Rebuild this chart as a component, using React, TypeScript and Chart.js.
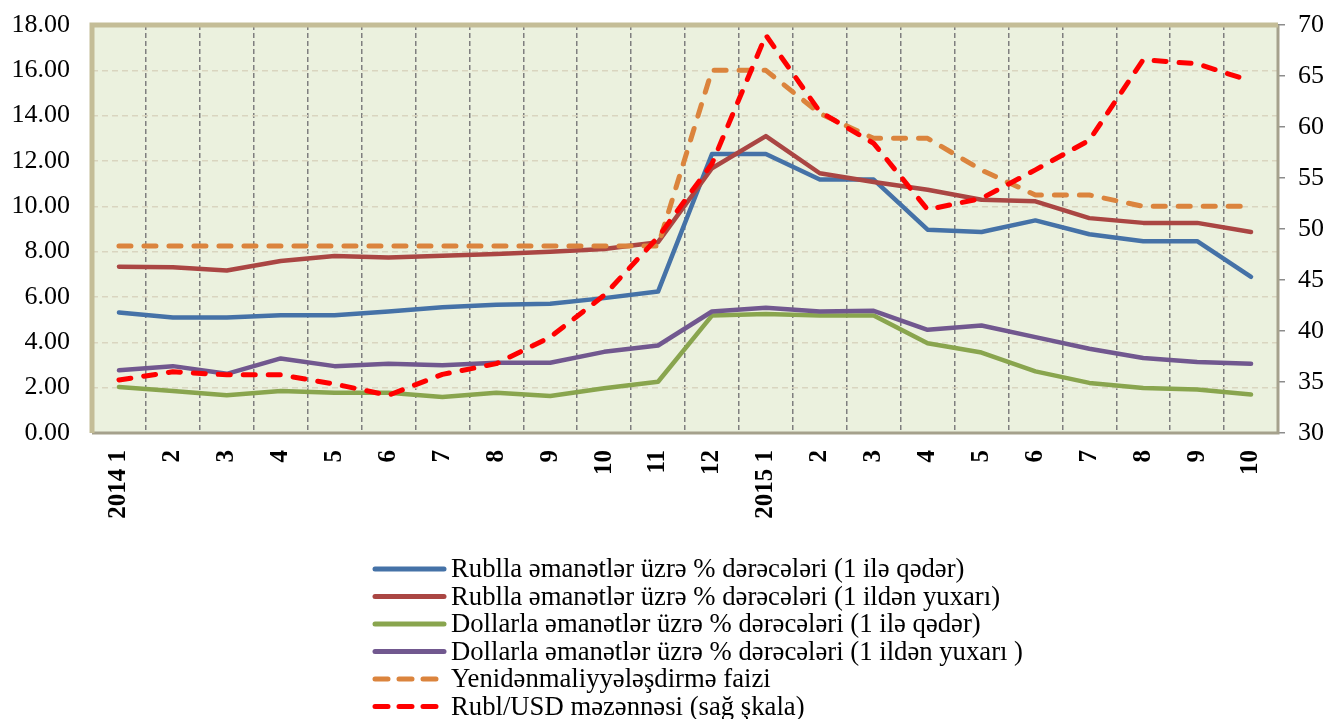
import React, { useEffect, useRef } from "react";
import { Chart, registerables } from "chart.js";

Chart.register(...registerables);

const categories: string[] = [
  "2014 1", "2", "3", "4", "5", "6", "7", "8", "9", "10", "11", "12",
  "2015 1", "2", "3", "4", "5", "6", "7", "8", "9", "10",
];

const rubShort: number[] = [5.32, 5.1, 5.1, 5.2, 5.2, 5.36, 5.55, 5.66, 5.7, 5.95, 6.24, 12.31, 12.31, 11.18, 11.18, 8.97, 8.87, 9.38, 8.77, 8.46, 8.46, 6.89];
const rubLong: number[] = [7.34, 7.31, 7.17, 7.59, 7.81, 7.74, 7.82, 7.9, 8.0, 8.12, 8.42, 11.68, 13.1, 11.46, 11.07, 10.73, 10.29, 10.22, 9.48, 9.27, 9.27, 8.87];
const usdShort: number[] = [2.03, 1.85, 1.67, 1.85, 1.78, 1.78, 1.59, 1.78, 1.63, 1.97, 2.26, 5.18, 5.25, 5.18, 5.18, 3.96, 3.55, 2.72, 2.21, 1.99, 1.92, 1.7];
const usdLong: number[] = [2.77, 2.95, 2.61, 3.29, 2.95, 3.05, 2.99, 3.1, 3.1, 3.58, 3.86, 5.36, 5.53, 5.36, 5.39, 4.55, 4.74, 4.23, 3.72, 3.31, 3.13, 3.06];
const refiRate: number[] = [8.25, 8.25, 8.25, 8.25, 8.25, 8.25, 8.25, 8.25, 8.25, 8.25, 8.25, 16.0, 16.0, 14.1, 13.0, 13.0, 11.6, 10.5, 10.5, 10.0, 10.0, 10.0];
const rubUsd: number[] = [35.2, 36.0, 35.7, 35.7, 34.8, 33.7, 35.75, 36.8, 39.4, 43.5, 49.2, 56.4, 69.0, 61.5, 58.4, 51.9, 53.0, 55.8, 58.7, 66.6, 66.2, 64.5];

const seriesNames: string[] = [
  "Rublla əmanətlər üzrə % dərəcələri (1 ilə qədər)",
  "Rublla əmanətlər üzrə % dərəcələri (1 ildən yuxarı)",
  "Dollarla əmanətlər üzrə % dərəcələri (1 ilə qədər)",
  "Dollarla əmanətlər üzrə % dərəcələri (1 ildən yuxarı )",
  "Yenidənmaliyyələşdirmə faizi",
  "Rubl/USD məzənnəsi (sağ şkala)",
];

const leftTicks = { min: 0, max: 18, step: 2 };
const rightTicks = { min: 30, max: 70, step: 5 };

const FONT = "'Times New Roman', 'Liberation Serif', serif";

const framePlugin = {
  id: "frame",
  beforeDraw(chart: any) {
    const { ctx, chartArea: a } = chart;
    ctx.save();
    ctx.fillStyle = "#EBF1DE";
    ctx.fillRect(a.left, a.top, a.right - a.left, a.bottom - a.top);
    ctx.restore();
  },
  afterDatasetsDraw(chart: any) {
    const { ctx, chartArea: a } = chart;
    ctx.save();
    ctx.lineCap = "butt";
    ctx.strokeStyle = "#A5A18C";
    ctx.lineWidth = 3;
    ctx.beginPath();
    ctx.moveTo(a.right, a.top);
    ctx.lineTo(a.right, a.bottom);
    ctx.lineTo(a.left, a.bottom);
    ctx.stroke();
    ctx.strokeStyle = "#C4BD97";
    ctx.lineWidth = 5;
    ctx.beginPath();
    ctx.moveTo(a.left, a.bottom);
    ctx.lineTo(a.left, a.top);
    ctx.lineTo(a.right, a.top);
    ctx.stroke();
    ctx.restore();
  },
};

const legendPlugin = {
  id: "customLegend",
  afterDraw(chart: any) {
    const { ctx } = chart;
    const x0 = 375;
    const x1 = 444;
    const y0 = 569;
    const dy = 27.5;
    ctx.save();
    chart.data.datasets.forEach((ds: any, i: number) => {
      const y = y0 + i * dy;
      ctx.beginPath();
      ctx.strokeStyle = ds.borderColor;
      ctx.lineWidth = 5;
      ctx.lineCap = "round";
      ctx.setLineDash(ds.borderDash && ds.borderDash.length ? [13, 11] : []);
      ctx.moveTo(x0, y);
      ctx.lineTo(x1, y);
      ctx.stroke();
      ctx.setLineDash([]);
      ctx.fillStyle = "#000000";
      ctx.font = `26.7px ${FONT}`;
      ctx.textBaseline = "middle";
      ctx.textAlign = "left";
      ctx.fillText(ds.label, 451, y + 1);
    });
    ctx.restore();
  },
};

export default function App() {
  const ref = useRef<HTMLCanvasElement | null>(null);

  useEffect(() => {
    if (!ref.current) return;
    const mk = (label: string, data: number[], color: string, order: number, dashed: boolean, axis = "y") => ({
      label,
      data,
      borderColor: color,
      backgroundColor: color,
      borderWidth: dashed ? 5 : 4.5,
      borderDash: dashed ? [12, 13] : [],
      borderCapStyle: "round",
      borderJoinStyle: "round",
      pointRadius: 0,
      pointHoverRadius: 0,
      tension: 0,
      fill: false,
      order,
      yAxisID: axis,
    });
    const chart = new Chart(ref.current, {
      type: "line",
      data: {
        labels: categories,
        datasets: [
          mk(seriesNames[0], rubShort, "#4572A7", 6, false),
          mk(seriesNames[1], rubLong, "#AA4643", 5, false),
          mk(seriesNames[2], usdShort, "#89A54E", 4, false),
          mk(seriesNames[3], usdLong, "#71588F", 3, false),
          mk(seriesNames[4], refiRate, "#DB843D", 2, true),
          mk(seriesNames[5], rubUsd, "#FF0000", 1, true, "y1"),
        ] as any,
      },
      options: {
        animation: false,
        responsive: true,
        maintainAspectRatio: false,
        layout: { padding: { top: 25, bottom: 186, left: 0, right: 0 } },
        plugins: {
          legend: { display: false },
          tooltip: { enabled: false },
          title: { display: false },
        },
        scales: {
          x: {
            offset: true,
            grid: {
              offset: true,
              drawTicks: false,
              color: "#7F7F7F",
              lineWidth: 1.5,
            },
            border: { display: false, dash: [5, 3] },
            ticks: {
              autoSkip: false,
              maxRotation: 90,
              minRotation: 90,
              padding: 17,
              color: "#000000",
              font: { family: FONT, size: 25, weight: "bold" },
            },
            afterFit(scale: any) {
              scale.height = 100;
              scale.paddingLeft = 0;
              scale.paddingRight = 0;
            },
          },
          y: {
            position: "left",
            min: leftTicks.min,
            max: leftTicks.max,
            ticks: {
              stepSize: leftTicks.step,
              padding: 22,
              color: "#000000",
              font: { family: FONT, size: 26 },
              callback: (v: any) => Number(v).toFixed(2),
            },
            grid: {
              drawTicks: false,
              color: "#D9D5BF",
              lineWidth: 1.5,
            },
            border: { display: false, dash: [6, 4] },
            afterFit(scale: any) {
              scale.width = 92;
              scale.paddingTop = 0;
              scale.paddingBottom = 0;
            },
          },
          y1: {
            position: "right",
            min: rightTicks.min,
            max: rightTicks.max,
            ticks: {
              stepSize: rightTicks.step,
              padding: 13,
              color: "#000000",
              font: { family: FONT, size: 26 },
            },
            grid: {
              drawOnChartArea: false,
              drawTicks: true,
              tickLength: 7,
              color: "#8C8C8C",
              lineWidth: 1.5,
            },
            border: { display: false },
            afterFit(scale: any) {
              scale.width = 50;
              scale.paddingTop = 0;
              scale.paddingBottom = 0;
            },
          },
        },
      } as any,
      plugins: [framePlugin, legendPlugin],
    });
    return () => chart.destroy();
  }, []);

  return (
    <div style={{ position: "fixed", left: 0, top: 0, width: 1328, height: 719, background: "#ffffff" }}>
      <canvas ref={ref} />
    </div>
  );
}
